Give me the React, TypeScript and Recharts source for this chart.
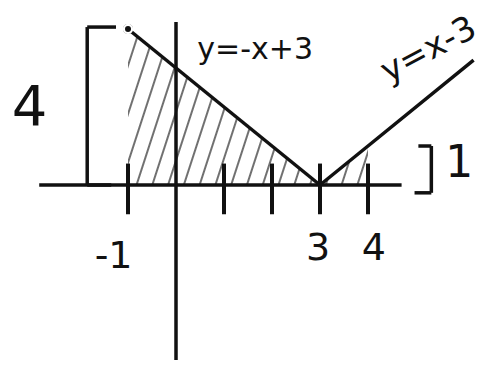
import { ComposedChart, Line, Area, XAxis, YAxis, ReferenceLine, ReferenceDot } from 'recharts';

// x positions of the plotted points
const xs = [-1, 3, 4, 6.2];
// y = -x + 3 on [-1, 3]
const leftLine = [4, 0, null, null];
// y = x - 3 on [3, 6.2]
const rightLine = [null, 0, 1, 3.2];
// shaded region under |x - 3| from -1 to 4
const shaded = [4, 0, 1, null];

const tickXs = [-1, 1, 2, 3, 4];
const tickLabels = [
  { x: -1.3, y: -1.8, text: '-1' },
  { x: 2.96, y: -1.6, text: '3' },
  { x: 4.12, y: -1.6, text: '4' },
];

const X_DOMAIN: [number, number] = [-3.667, 6.563];
const Y_DOMAIN: [number, number] = [-4.641, 4.744];

const data = xs.map((x, i) => ({ x, left: leftLine[i], right: rightLine[i], shade: shaded[i] }));

const INK = '#111';

const handText = (text: string, size: number, rotate = 0) => (p: any) => (
  <text
    x={p.cx}
    y={p.cy}
    fontSize={size}
    fontFamily="DejaVu Sans, sans-serif"
    fill={INK}
    textAnchor="middle"
    dominantBaseline="central"
    transform={rotate ? `rotate(${rotate} ${p.cx} ${p.cy})` : undefined}
  >
    {text}
  </text>
);

export default function App() {
  return (
    <div style={{ position: 'absolute', left: 0, top: 0, width: 491, height: 366, background: '#fff' }}>
      <ComposedChart width={491} height={366} data={data} margin={{ top: 0, right: 0, bottom: 0, left: 0 }}>
        <defs>
          <pattern id="hatch" width="15" height="10" patternUnits="userSpaceOnUse" patternTransform="rotate(18)">
            <line x1="7" y1="0" x2="7" y2="10" stroke="#333" strokeWidth={1.4} />
          </pattern>
        </defs>
        <XAxis dataKey="x" type="number" domain={X_DOMAIN} allowDataOverflow hide />
        <YAxis type="number" domain={Y_DOMAIN} allowDataOverflow hide />

        <Area
          dataKey="shade"
          type="linear"
          baseValue={0}
          stroke="none"
          fill="url(#hatch)"
          fillOpacity={1}
          isAnimationActive={false}
        />

        {/* axes through the origin */}
        <ReferenceLine segment={[{ x: -2.85, y: 0 }, { x: 4.7, y: 0 }]} stroke={INK} strokeWidth={3.5} />
        <ReferenceLine segment={[{ x: 0, y: 4.18 }, { x: 0, y: -4.49 }]} stroke={INK} strokeWidth={3.5} />

        {tickXs.map((t) => (
          <ReferenceLine key={t} segment={[{ x: t, y: -0.75 }, { x: t, y: 0.55 }]} stroke={INK} strokeWidth={4} />
        ))}

        {/* left bracket marking height 4 */}
        <ReferenceLine segment={[{ x: -1.25, y: 4.05 }, { x: -1.85, y: 4.05 }]} stroke={INK} strokeWidth={3.5} />
        <ReferenceLine segment={[{ x: -1.85, y: 4.05 }, { x: -1.85, y: 0 }]} stroke={INK} strokeWidth={3.5} />
        <ReferenceLine segment={[{ x: -1.85, y: 0 }, { x: -1.35, y: 0 }]} stroke={INK} strokeWidth={3.5} />

        {/* right bracket marking height 1 */}
        <ReferenceLine segment={[{ x: 5.05, y: 1 }, { x: 5.32, y: 1 }]} stroke={INK} strokeWidth={3.5} />
        <ReferenceLine segment={[{ x: 5.32, y: 1 }, { x: 5.32, y: -0.2 }]} stroke={INK} strokeWidth={3.5} />
        <ReferenceLine segment={[{ x: 5.32, y: -0.2 }, { x: 4.97, y: -0.2 }]} stroke={INK} strokeWidth={3.5} />

        <Line dataKey="left" type="linear" stroke={INK} strokeWidth={3.5} dot={false} connectNulls isAnimationActive={false} />
        <Line dataKey="right" type="linear" stroke={INK} strokeWidth={3.5} dot={false} connectNulls isAnimationActive={false} />
        <ReferenceDot x={-1} y={4} r={5} fill={INK} stroke="none" />

        {tickLabels.map((l) => (
          <ReferenceDot key={l.text} x={l.x} y={l.y} r={0} shape={handText(l.text, 38)} />
        ))}
        <ReferenceDot x={-3.05} y={2.05} r={0} shape={handText('4', 56)} />
        <ReferenceDot x={5.9} y={0.6} r={0} shape={handText('1', 44)} />
        <ReferenceDot x={1.65} y={3.5} r={0} shape={handText('y=-x+3', 30)} />
        <ReferenceDot x={5.25} y={3.5} r={0} shape={handText('y=x-3', 34, -28)} />
      </ComposedChart>
    </div>
  );
}
